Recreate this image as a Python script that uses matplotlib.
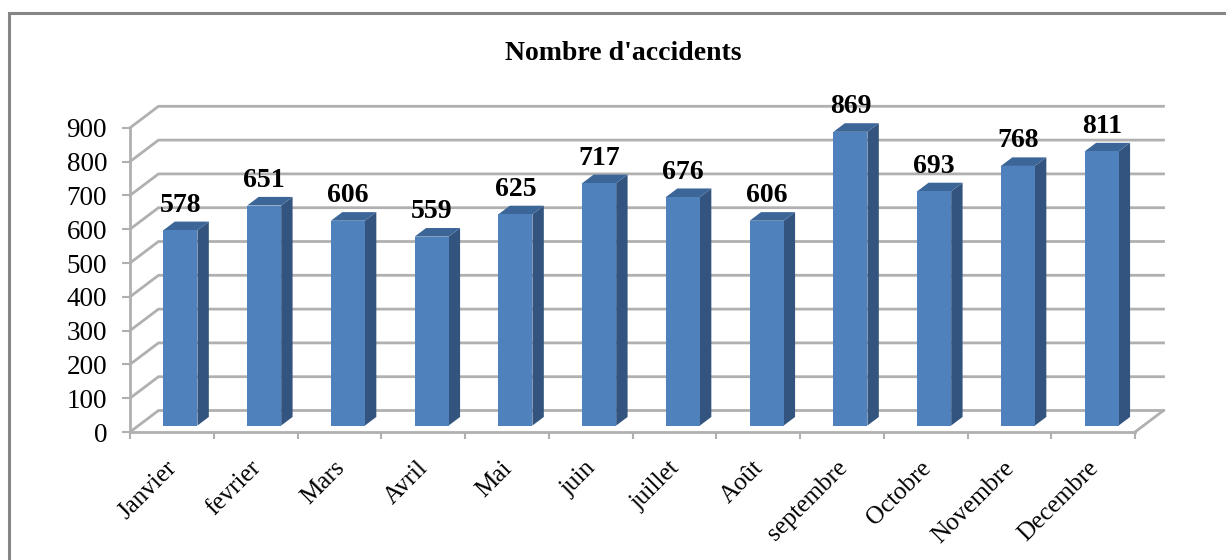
#!/usr/bin/env python3

# Nombre d'accidents par mois, fake-3D column chart

import numpy as np
from matplotlib import pyplot as plt
from matplotlib.lines import Line2D

plt.rcParams['font.family'] = ['Liberation Serif', 'DejaVu Serif']

months = ['Janvier', 'fevrier', 'Mars', 'Avril', 'Mai', 'juin', 'juillet',
          'Août', 'septembre', 'Octobre', 'Novembre', 'Decembre']
accidents = [578, 651, 606, 559, 625, 717, 676, 606, 869, 693, 768, 811]
yticks = [0, 100, 200, 300, 400, 500, 600, 700, 800, 900]

W, H = 1226, 560
GREY = '#b0b0b0'

fig = plt.figure(figsize=(W / 100, H / 100), dpi=100)
# chart frame, only left and top fall inside the picture
fig.add_artist(Line2D([9 / W, 9 / W, 1], [0, 1 - 13 / H, 1 - 13 / H],
                      color='#868686', lw=2.2, solid_joinstyle='miter'))

ax = fig.add_axes([130 / W, (H - 432) / H, 1005 / W, 304.2 / H])
ax.set_xlim(0, 12)
ax.set_ylim(0, 900)
ax.patch.set_visible(False)

# depth of the floor, in data units
px_x = 12 / 1005
px_y = 900 / 304.2
dx = 28.5 * px_x
dy = 21.5 * px_y

# walls
for v in yticks:
    ax.plot([0, dx, 12 + dx], [v, v + dy, v + dy], c=GREY, lw=2,
            clip_on=False, zorder=1)
ax.plot([12, 12 + dx], [0, dy], c=GREY, lw=2, clip_on=False, zorder=1)

# bars
x = np.arange(12) + 0.5
bw = 0.406
sx = 0.3 * dx
sy = 0.3 * dy
bx = 0.4 * dx
by = 0.4 * dy
fronts = x + sx
ax.bar(fronts, accidents, width=bw, bottom=sy, color='#4f81bd', lw=0, zorder=4)
for xc, v in zip(fronts, accidents):
    xl = xc - bw / 2
    xr = xc + bw / 2
    top = v + sy
    ax.fill([xr, xr + bx, xr + bx, xr], [sy, sy + by, top + by, top],
            color='#32547f', lw=0, zorder=3, clip_on=False)
    ax.fill([xl, xl + bx, xr + bx, xr], [top, top + by, top + by, top],
            color='#3d6698', lw=0, zorder=3, clip_on=False)
    ax.annotate(str(v), (xc, top), xytext=(0, 25), textcoords='offset pixels',
                ha='center', va='center', fontsize=20, fontweight='bold',
                color='black', annotation_clip=False, zorder=6)

for s in ['top', 'right']:
    ax.spines[s].set_visible(False)
for s in ['left', 'bottom']:
    ax.spines[s].set_color(GREY)
    ax.spines[s].set_linewidth(2)
    ax.spines[s].set_zorder(2)

ax.set_yticks(yticks)
ax.set_xticks(range(13))
ax.set_xticklabels([])
# month labels sit a little left of the category centre
ax.set_xticks(x - 6 * px_x, minor=True)
ax.set_xticklabels(months, minor=True, rotation=45, ha='right', va='top',
                   rotation_mode='anchor', fontsize=18)
ax.tick_params(axis='x', which='major', length=5, width=1.5, color=GREY)
ax.tick_params(axis='x', which='minor', length=0, pad=18)
ax.tick_params(axis='y', length=5.5, width=1.5, color=GREY, labelsize=19.5, pad=11)

fig.text(623.5 / W, 1 - 54 / H, "Nombre d'accidents", ha='center', va='center',
         fontsize=20, fontweight='bold')

plt.savefig('out.png', dpi=100)
